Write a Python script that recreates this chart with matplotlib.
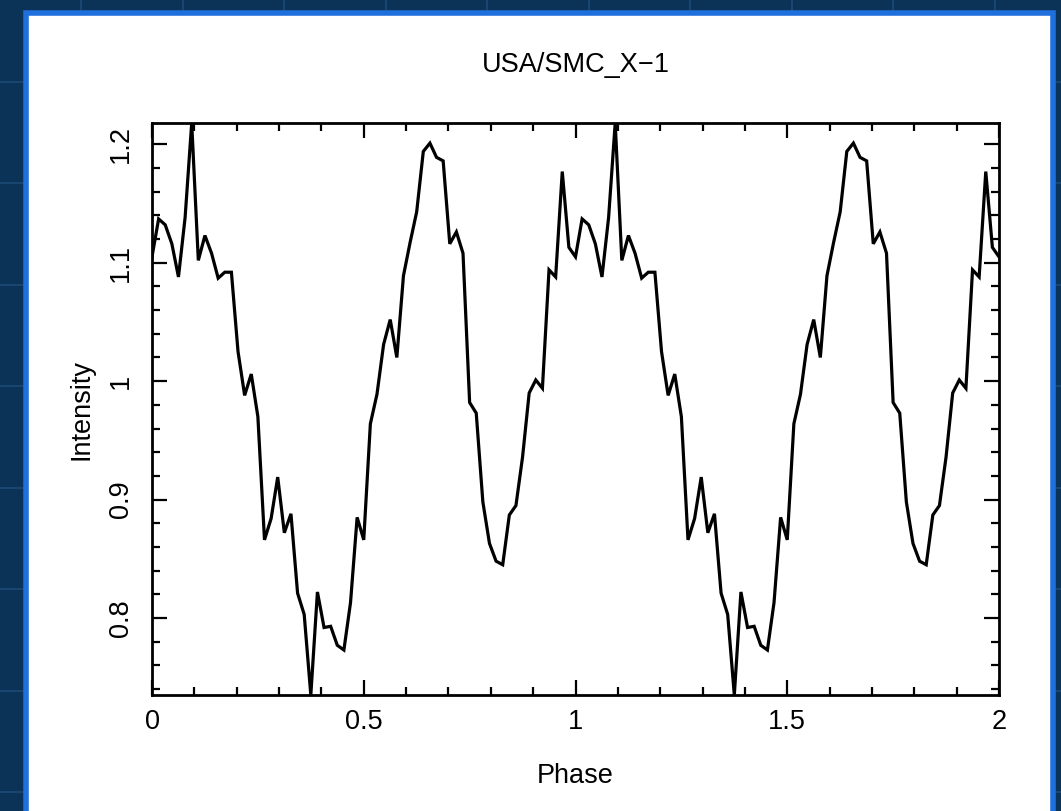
#!/usr/bin/env python3
"""
USA/SMC_X-1 folded light curve (two cycles)
"""

import numpy as np
import matplotlib
matplotlib.use("Agg")
import matplotlib.pyplot as plt
from matplotlib.patches import Rectangle
from matplotlib.ticker import MultipleLocator, FuncFormatter

# folded profile, 64 phase bins per cycle
n_bins = 64
profile = [
    1.105, 1.137, 1.132, 1.116, 1.088, 1.138, 1.218, 1.102,
    1.123, 1.108, 1.087, 1.092, 1.092, 1.025, 0.988, 1.006,
    0.970, 0.866, 0.884, 0.919, 0.872, 0.888, 0.821, 0.803,
    0.735, 0.822, 0.792, 0.793, 0.777, 0.773, 0.813, 0.885,
    0.866, 0.964, 0.989, 1.031, 1.052, 1.020, 1.089, 1.117,
    1.143, 1.194, 1.201, 1.189, 1.186, 1.116, 1.126, 1.108,
    0.982, 0.973, 0.898, 0.863, 0.848, 0.845, 0.887, 0.895,
    0.936, 0.990, 1.001, 0.994, 1.094, 1.088, 1.177, 1.113,
]
n_cycles = 2
title = "USA/SMC_X\u22121"
x_label = "Phase"
y_label = "Intensity"

# two cycles, closed at phase 2
intensity = np.concatenate([profile * n_cycles, profile[:1]])
phase = np.arange(len(intensity)) / n_bins

W, H = 1061, 811
fig = plt.figure(figsize=(W / 100, H / 100), dpi=100)
fig.patch.set_facecolor("#0b3357")

# dark backdrop with faint grid
bg = fig.add_axes([0, 0, 1, 1])
bg.set_xlim(0, W)
bg.set_ylim(H, 0)
bg.set_facecolor("#0b3357")
bg.axis("off")
for gx in np.arange(81, W, 101.5):
    bg.plot([gx, gx], [0, H], color="#1d4b76", lw=1.2, zorder=0)
for gy in np.arange(-20, H, 101.5):
    bg.plot([0, W], [gy, gy], color="#1d4b76", lw=1.2, zorder=0)
bg.add_patch(Rectangle((25.5, 12.5), 1027, 820, facecolor="white",
                       edgecolor="#1f6fdc", lw=4, zorder=1))

plt.rcParams['font.family'] = ['Liberation Sans', 'DejaVu Sans']
fs = 19.5

ax = fig.add_axes([152 / W, 1 - 695 / H, 847 / W, 572 / H])
ax.plot(phase, intensity, color="black", lw=2.3, solid_joinstyle="miter")
ax.set_xlim(0, n_cycles)
ax.set_ylim(min(profile), max(profile))

ax.xaxis.set_major_locator(MultipleLocator(0.5))
ax.xaxis.set_minor_locator(MultipleLocator(0.1))
ax.yaxis.set_major_locator(MultipleLocator(0.1))
ax.yaxis.set_minor_locator(MultipleLocator(0.02))
fmt = FuncFormatter(lambda v, p: "%g" % round(v, 3))
ax.xaxis.set_major_formatter(fmt)
ax.yaxis.set_major_formatter(fmt)

ax.tick_params(which="both", direction="in", top=True, right=True,
               width=1.6, color="black", labelsize=fs)
ax.tick_params(which="major", length=11)
ax.tick_params(which="minor", length=6)
ax.tick_params(axis="x", pad=10)
ax.tick_params(axis="y", pad=13)
for lab in ax.get_yticklabels():
    lab.set_rotation(90)
    lab.set_va("center")
for s in ax.spines.values():
    s.set_linewidth(2)

ax.set_xlabel(x_label, fontsize=fs, labelpad=20)
ax.set_ylabel(y_label, fontsize=fs, labelpad=10)
ax.set_title(title, fontsize=fs, pad=37)

plt.savefig("out.png", dpi=100, facecolor=fig.get_facecolor())
plt.close()
